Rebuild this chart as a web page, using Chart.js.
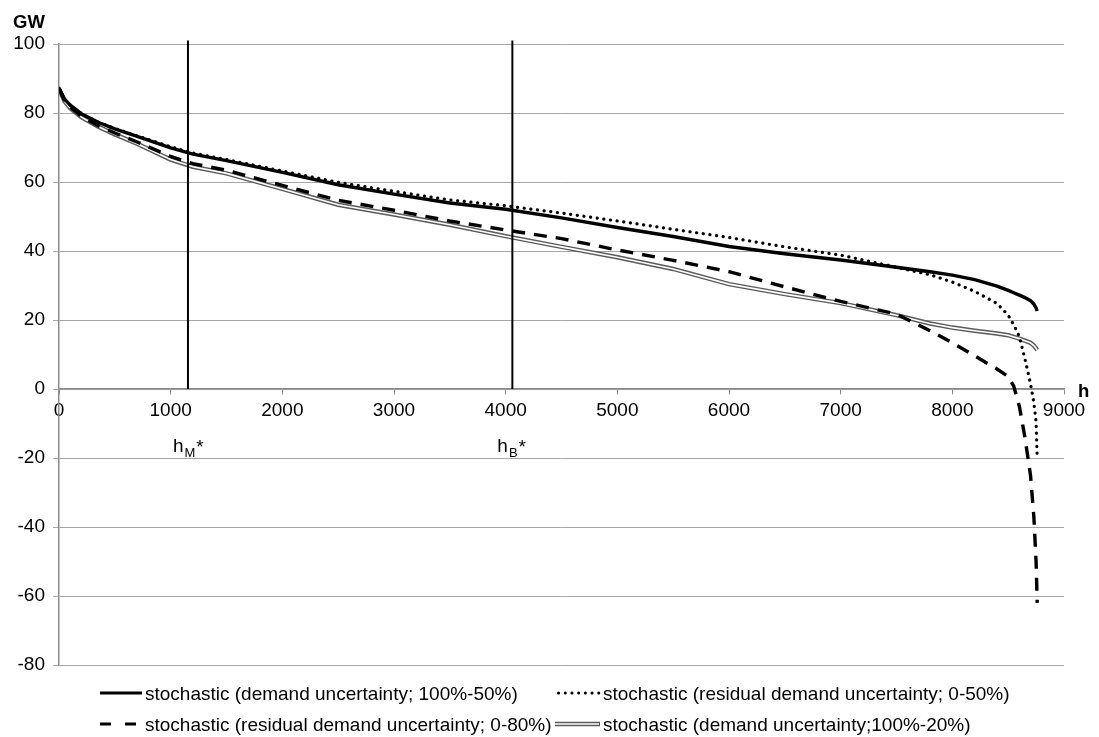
<!DOCTYPE html>
<html>
<head>
<meta charset="utf-8">
<script src="https://cdn.jsdelivr.net/npm/chart.js@4"></script>
<style>
  html, body { margin: 0; padding: 0; background: #ffffff; }
  #wrap { width: 1099px; height: 737px; position: relative; }
</style>
</head>
<body>
<div id="wrap"><canvas id="c" width="1099" height="737"></canvas></div>
<script>
// ---- data ----
const hours = [0, 50, 100, 200, 350, 500, 700, 1000, 1200, 1500, 2000, 2500, 3000, 3500, 4000, 4500, 5000, 5500, 6000, 6500, 7000, 7500, 7800, 8000, 8200, 8400, 8500, 8550, 8600, 8650, 8700, 8730, 8750, 8760];

const demand100_50 = [87.2, 84.0, 82.3, 79.8, 77.3, 75.4, 73.2, 69.9, 68.1, 66.2, 62.8, 59.2, 56.5, 53.9, 52.1, 49.6, 46.8, 44.2, 41.3, 39.2, 37.4, 35.3, 34.0, 33.0, 31.7, 29.8, 28.6, 27.9, 27.2, 26.5, 25.6, 24.6, 23.5, 22.6];

const residual0_50 = [87.2, 84.0, 82.3, 79.8, 77.4, 75.5, 73.4, 70.2, 68.4, 66.5, 63.2, 59.9, 57.3, 54.8, 53.1, 51.0, 48.7, 46.3, 43.9, 41.2, 38.8, 35.3, 33.1, 31.0, 28.3, 24.8, 21.4, 18.6, 15.2, 8.8, 1.5, -4.0, -9.5, -20.0];

const residual0_80 = [87.0, 83.7, 81.7, 79.1, 76.3, 74.2, 71.6, 67.4, 65.3, 63.4, 59.0, 54.7, 51.8, 48.7, 46.1, 43.6, 40.3, 37.3, 34.0, 29.6, 25.4, 21.7, 16.9, 13.4, 9.6, 5.8, 3.6, 0.8, -5.0, -14.0, -25.0, -37.0, -50.0, -62.0];

const demand100_20 = [87.0, 83.4, 81.4, 78.8, 76.1, 73.8, 71.1, 66.5, 64.4, 62.5, 58.0, 53.4, 50.6, 47.6, 44.3, 41.2, 38.2, 34.8, 30.4, 27.5, 24.9, 21.4, 19.0, 17.8, 16.9, 16.1, 15.6, 15.1, 14.6, 14.0, 13.4, 12.6, 11.8, 11.3];

const seriesNames = [
  "stochastic (demand uncertainty; 100%-50%)",
  "stochastic (residual demand uncertainty; 0-50%)",
  "stochastic (residual demand uncertainty; 0-80%)",
  "stochastic (demand uncertainty;100%-20%)"
];

const markerHours = [1155, 4060];        // h_M*, h_B*
const markerSubs = ["M", "B"];
const markerSpan = [0, 101];

const yTicks = [-80, -60, -40, -20, 0, 20, 40, 60, 80, 100];
const xTicks = [0, 1000, 2000, 3000, 4000, 5000, 6000, 7000, 8000, 9000];

// ---- build datasets ----
const pts = arr => hours.map((h, i) => ({ x: h, y: arr[i] }));
const FONT = "'Liberation Sans', Arial, sans-serif";
const FS = 19;

const datasets = [
  { label: seriesNames[3] + " outer", data: pts(demand100_20), borderColor: "#5a5a5a", borderWidth: 4.5, order: 5 },
  { label: seriesNames[3] + " inner", data: pts(demand100_20), borderColor: "#ffffff", borderWidth: 1.6, order: 4 },
  { label: seriesNames[2], data: pts(residual0_80), borderColor: "#000000", borderWidth: 3.4, borderDash: [13, 9], order: 3 },
  { label: seriesNames[1], data: pts(residual0_50), borderColor: "#000000", borderWidth: 3.2, borderDash: [0.1, 6.6], borderCapStyle: "round", order: 2 },
  { label: seriesNames[0], data: pts(demand100_50), borderColor: "#000000", borderWidth: 3.4, order: 1 }
];
markerHours.forEach((h, i) => {
  datasets.push({
    label: "marker" + i,
    data: markerSpan.map(v => ({ x: h, y: v })),
    borderColor: "#000000", borderWidth: 2, clip: false, order: 0
  });
});
datasets.forEach(d => { d.showLine = true; d.pointRadius = 0; d.pointHoverRadius = 0; d.fill = false; d.tension = 0; });

// ---- custom drawing: axis titles, marker labels, legend ----
const extras = {
  id: "extras",
  afterDraw(chart) {
    const ctx = chart.ctx;
    const xs = chart.scales.x, ys = chart.scales.y;
    ctx.save();
    ctx.fillStyle = "#000";
    ctx.textBaseline = "alphabetic";
    ctx.textAlign = "left";
    ctx.font = "bold 18.5px " + FONT;
    ctx.fillText("GW", 13, 28);
    ctx.fillText("h", 1078, 397);

    // marker labels h_M*, h_B*
    markerHours.forEach((h, i) => {
      const px = xs.getPixelForValue(h);
      const x0 = px - 15;
      const base = ys.getPixelForValue(-20) - 6;
      ctx.font = FS + "px " + FONT;
      ctx.fillText("h", x0, base);
      let w = ctx.measureText("h").width;
      ctx.font = "13px " + FONT;
      ctx.fillText(markerSubs[i], x0 + w + 1, base + 5);
      const w2 = ctx.measureText(markerSubs[i]).width;
      ctx.font = FS + "px " + FONT;
      ctx.fillText("*", x0 + w + 1 + w2 + 1, base + 1);
    });

    // legend
    ctx.font = FS + "px " + FONT;
    const items = [
      { x1: 100, x2: 142, y: 693, ty: 700, tx: 145, name: seriesNames[0], style: "solid" },
      { x1: 557, x2: 600, y: 693, ty: 700, tx: 603, name: seriesNames[1], style: "dot" },
      { x1: 100, x2: 140, y: 724, ty: 731, tx: 145, name: seriesNames[2], style: "dash" },
      { x1: 555, x2: 600, y: 724, ty: 731, tx: 603, name: seriesNames[3], style: "double" }
    ];
    items.forEach(it => {
      ctx.save();
      ctx.strokeStyle = "#000";
      ctx.lineCap = "butt";
      if (it.style === "solid") { ctx.lineWidth = 3; ctx.setLineDash([]); }
      if (it.style === "dot") { ctx.lineWidth = 3; ctx.lineCap = "round"; ctx.setLineDash([0.1, 6.6]); }
      if (it.style === "dash") { ctx.lineWidth = 3.2; ctx.setLineDash([11, 14]); }
      if (it.style === "double") {
        ctx.lineWidth = 4.5; ctx.strokeStyle = "#5a5a5a";
        ctx.beginPath(); ctx.moveTo(it.x1, it.y); ctx.lineTo(it.x2, it.y); ctx.stroke();
        ctx.lineWidth = 1.6; ctx.strokeStyle = "#fff";
        ctx.beginPath(); ctx.moveTo(it.x1, it.y); ctx.lineTo(it.x2 - 1, it.y); ctx.stroke();
      } else {
        ctx.beginPath(); ctx.moveTo(it.x1 + (it.style === "dot" ? 1.5 : 0), it.y); ctx.lineTo(it.x2, it.y); ctx.stroke();
      }
      ctx.restore();
      ctx.fillText(it.name, it.tx, it.ty);
    });
    ctx.restore();
  }
};

new Chart(document.getElementById("c"), {
  type: "scatter",
  data: { datasets },
  options: {
    responsive: false,
    animation: false,
    events: [],
    layout: { padding: { top: 44, right: 35, bottom: 72, left: 0 } },
    plugins: { legend: { display: false }, tooltip: { enabled: false } },
    scales: {
      x: {
        type: "linear",
        min: 0, max: 9000,
        position: { y: 0 },
        afterBuildTicks: s => { s.ticks = xTicks.map(v => ({ value: v })); },
        grid: { drawOnChartArea: false, drawTicks: true, tickLength: 5, color: "#8c8c8c", lineWidth: 1 },
        border: { display: true, color: "#8c8c8c", width: 1.5 },
        ticks: { color: "#000", font: { family: FONT, size: FS }, padding: 5, maxRotation: 0, autoSkip: false, callback: v => String(v) }
      },
      y: {
        type: "linear",
        min: -80, max: 100,
        afterBuildTicks: s => { s.ticks = yTicks.map(v => ({ value: v })); },
        afterFit: s => { s.width = 59; },
        grid: { color: "#a6a6a6", lineWidth: 1, tickLength: 6, drawTicks: true },
        border: { display: true, color: "#8c8c8c", width: 1.5 },
        ticks: { color: "#000", font: { family: FONT, size: FS }, padding: 8, autoSkip: false, callback: v => String(v) }
      }
    }
  },
  plugins: [extras]
});
</script>
</body>
</html>
